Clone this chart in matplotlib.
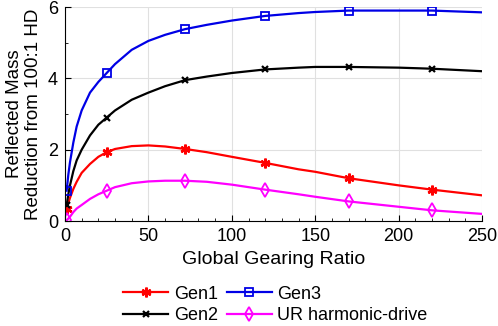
import matplotlib

matplotlib.use("Agg")

import matplotlib.pyplot as plt
from matplotlib.ticker import MultipleLocator

plt.rcParams["font.family"] = ["Liberation Sans", "DejaVu Sans"]

# gearing ratio samples
ratio = [1, 2, 3, 5, 7, 10, 15, 20, 25, 30, 40, 50, 60, 72, 85, 100, 120, 140, 150, 170, 200, 220, 250]
gen1 = [0.35, 0.5, 0.65, 0.9, 1.1, 1.35, 1.6, 1.8, 1.93, 2.02, 2.1, 2.12, 2.09, 2.02, 1.93, 1.8, 1.63, 1.45, 1.38, 1.2, 1.0, 0.88, 0.72]
gen2 = [0.45, 0.75, 1.0, 1.4, 1.7, 2.0, 2.4, 2.7, 2.9, 3.1, 3.4, 3.6, 3.78, 3.95, 4.05, 4.15, 4.25, 4.3, 4.32, 4.32, 4.3, 4.27, 4.2]
gen3 = [0.85, 1.3, 1.65, 2.2, 2.65, 3.1, 3.6, 3.9, 4.15, 4.4, 4.8, 5.05, 5.22, 5.38, 5.5, 5.62, 5.75, 5.83, 5.86, 5.9, 5.9, 5.9, 5.85]
ur_hd = [0.02, 0.07, 0.12, 0.25, 0.35, 0.45, 0.62, 0.75, 0.85, 0.95, 1.06, 1.11, 1.13, 1.13, 1.1, 1.02, 0.88, 0.75, 0.68, 0.55, 0.4, 0.3, 0.2]

# markers drawn at these gearing ratios
marker_ratio = [1, 25, 72, 120, 170, 220]
marks = [ratio.index(r) for r in marker_ratio]

fig = plt.figure(figsize=(4.98, 3.26), dpi=100)
ax = fig.add_axes([0.1305, 0.322, 0.8375, 0.6565])

ax.plot(ratio, gen1, color="red", lw=1.6, marker=(6, 2, 0), ms=7, mew=1.8,
        markevery=marks, label="Gen1")
ax.plot(ratio, gen2, color="black", lw=1.6, marker="x", ms=5, mew=1.6,
        markevery=marks, label="Gen2")
ax.plot(ratio, gen3, color="#0000e6", lw=1.6, marker="s", ms=6, mew=1.3,
        mfc="none", markevery=marks, label="Gen3")
ax.plot(ratio, ur_hd, color="magenta", lw=1.6, marker="d", ms=7, mew=1.3,
        mfc="none", markevery=marks, label="UR harmonic-drive")

ax.set_xlim(0, 250)
ax.set_ylim(0, 6)
ax.xaxis.set_major_locator(MultipleLocator(50))
ax.xaxis.set_minor_locator(MultipleLocator(10))
ax.yaxis.set_major_locator(MultipleLocator(2))
ax.yaxis.set_minor_locator(MultipleLocator(1))
ax.grid(True, color="#e0e0e0", lw=0.8)
ax.set_axisbelow(True)
for side in ["top", "right"]:
    ax.spines[side].set_visible(False)
ax.tick_params(direction="in", labelsize=13, length=4, pad=5)
ax.tick_params(which="minor", direction="in", length=2)

ax.set_xlabel("Global Gearing Ratio", fontsize=14, labelpad=4)
ax.set_ylabel("Reflected Mass\nReduction from 100:1 HD", fontsize=13.5)

fig.legend(loc="center", bbox_to_anchor=(0.553, 0.065), ncol=2, frameon=False,
           fontsize=13, handlelength=2.5, columnspacing=0.5, handletextpad=0.3,
           labelspacing=0.25, borderpad=0)

plt.savefig("out.png", dpi=100)
plt.close()
